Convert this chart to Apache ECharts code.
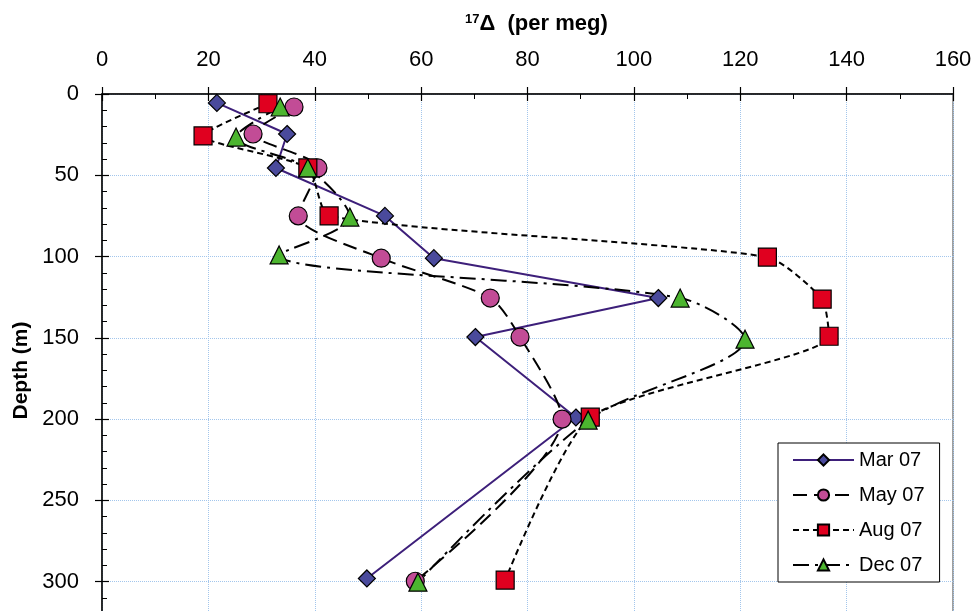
<!DOCTYPE html>
<html><head><meta charset="utf-8">
<script src="https://cdn.jsdelivr.net/npm/echarts@6/dist/echarts.min.js"></script>
<style>html,body{margin:0;padding:0;background:#fff}#c{width:975px;height:611px}</style>
</head><body><div id="c"></div>
<script>
// ---- data (x = 17Δ in per meg, depth in m) ----
const seriesNames = ['Mar 07', 'May 07', 'Aug 07', 'Dec 07'];
const marX   = [21.6, 34.8, 32.7, 53.2, 62.4, 104.6, 70.2, 89.1, 49.8];
const marDepth = [5.5, 24.6, 45.5, 75, 101, 125.5, 149.5, 199, 298];
const mayX   = [36.1, 28.4, 40.6, 36.9, 52.5, 73.0, 78.6, 86.5, 58.9];
const mayDepth = [8, 24.6, 45.5, 75, 101, 125.5, 149.5, 200, 299.7];
const augX   = [31.2, 19.0, 38.7, 42.7, 125.1, 135.4, 136.7, 91.8, 75.8];
const augDepth = [6, 25.8, 45.5, 75, 100.3, 126.2, 149, 198.8, 299];
const decX   = [33.5, 25.2, 38.7, 46.6, 33.3, 108.7, 120.9, 91.4, 59.4];
const decDepth = [8, 26.5, 45.5, 75.7, 99, 125.5, 150.8, 200.6, 300.3];
const xMin = 0, xMax = 160, xStep = 20;
const yMin = 0, yMax = 350, yStep = 50;

const FONT = '"Liberation Sans", Arial, sans-serif';
function pairs(xs, ds) { return xs.map((v, i) => [v, ds[i]]); }

const chart = echarts.init(document.getElementById('c'), null, {renderer: 'canvas'});
const gridLine = {show: true, lineStyle: {color: '#a3c6ec', type: 'dotted', width: 1}};
const tickStyle = {color: '#000', width: 1.2};

chart.setOption({
  animation: false,
  backgroundColor: '#fff',
  title: {
    left: 460, top: 8,
    text: '{sup|17}{b|Δ  (per meg)}',
    textStyle: {
      rich: {
        sup: {fontSize: 13, fontWeight: 'bold', verticalAlign: 'top', fontFamily: FONT, color: '#000'},
        b: {fontSize: 22, fontWeight: 'bold', fontFamily: FONT, color: '#000'}
      }
    }
  },
  grid: {left: 102, top: 94, width: 851, height: 569, show: true,
         outerBoundsMode: 'none', containLabel: false,
         borderColor: '#808080', borderWidth: 1.5, backgroundColor: 'transparent'},
  legend: {
    orient: 'vertical', left: 778, top: 443,
    padding: [7, 15, 7, 14], itemWidth: 61, itemHeight: 14, itemGap: 15,
    backgroundColor: '#fff', borderColor: '#000', borderWidth: 1,
    textStyle: {fontSize: 20, fontFamily: FONT, color: '#000'},
    data: seriesNames
  },
  xAxis: [
    {type: 'value', position: 'top', min: xMin, max: xMax, interval: xStep,
     axisLine: {show: true, lineStyle: {color: '#000', width: 1.5}},
     axisTick: {show: true, inside: false, length: 7, lineStyle: tickStyle},
     axisLabel: {fontSize: 22, color: '#000', margin: 23, fontFamily: FONT},
     splitLine: gridLine},
    {type: 'value', position: 'top', min: xMin, max: xMax, interval: xStep,
     axisLine: {show: false},
     axisTick: {show: true, inside: true, length: 7, lineStyle: tickStyle},
     minorTick: {show: true, splitNumber: 2, length: 5, lineStyle: {color: '#000', width: 1}},
     axisLabel: {show: false}, splitLine: {show: false}}
  ],
  yAxis: [
    {type: 'value', position: 'left', inverse: true, min: yMin, max: yMax, interval: yStep,
     name: 'Depth (m)', nameLocation: 'middle', nameRotate: 90, nameGap: 68,
     nameTextStyle: {fontSize: 21, fontWeight: 'bold', fontFamily: FONT, color: '#000', padding: [0, 0, 0, 16]},
     axisLine: {show: true, lineStyle: {color: '#000', width: 1.5}},
     axisTick: {show: true, inside: false, length: 7, lineStyle: tickStyle},
     axisLabel: {fontSize: 22, color: '#000', margin: 23, fontFamily: FONT},
     splitLine: gridLine},
    {type: 'value', position: 'left', inverse: true, min: yMin, max: yMax, interval: yStep,
     axisLine: {show: false},
     axisTick: {show: true, inside: true, length: 7, lineStyle: tickStyle},
     minorTick: {show: true, splitNumber: 5, length: 5, lineStyle: {color: '#000', width: 1}},
     axisLabel: {show: false}, splitLine: {show: false}}
  ],
  series: [
    {name: seriesNames[0], type: 'line', data: pairs(marX, marDepth), smooth: false,
     symbol: 'diamond', symbolSize: 17,
     lineStyle: {color: '#3d1f7a', width: 2, type: 'solid'},
     itemStyle: {color: '#4a4a9c', borderColor: '#000', borderWidth: 1.2}},
    {name: seriesNames[1], type: 'line', data: pairs(mayX, mayDepth), smooth: 0.25,
     symbol: 'circle', symbolSize: 18,
     lineStyle: {color: '#000', width: 2, type: [14, 7]},
     itemStyle: {color: '#c24c96', borderColor: '#000', borderWidth: 1.2}},
    {name: seriesNames[2], type: 'line', data: pairs(augX, augDepth), smooth: 0.2,
     symbol: 'rect', symbolSize: 18,
     lineStyle: {color: '#000', width: 2, type: [6, 4]},
     itemStyle: {color: '#e0001f', borderColor: '#000', borderWidth: 1.2}},
    {name: seriesNames[3], type: 'line', data: pairs(decX, decDepth), smooth: 0.3,
     symbol: 'triangle', symbolSize: 18,
     lineStyle: {color: '#000', width: 2, type: [16, 6, 3, 6]},
     itemStyle: {color: '#4cb52f', borderColor: '#000', borderWidth: 1.2}}
  ]
});
</script>
</body></html>
